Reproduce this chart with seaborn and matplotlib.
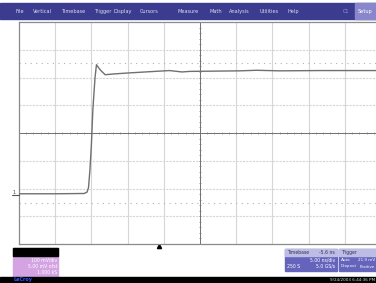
import numpy as np
import matplotlib
matplotlib.use("Agg")
import matplotlib.pyplot as plt
from matplotlib.patches import Rectangle
import seaborn as sns

# ---- data (time in ns, voltage in mV) ----
time_ns = [-25, -20, -16.0, -15.6, -15.4, -15.2, -15.0, -14.8, -14.5, -14.3,
           -13.8, -13.1, -11.8, -10.1, -6.9, -4.2, -2.5, -1.4, 2.2, 5.5,
           7.8, 11.0, 16.5, 25]
volt_mv = [-219, -219, -218, -213, -197, -132, -42, 84, 199, 246,
           228, 210, 213, 216, 221, 225, 220, 222, 223, 224,
           226, 224, 225, 225]
cursor_levels = [252, -251]
trigger_time = -5.6

menu_items = ["File", "Vertical", "Timebase", "Trigger", "Display", "Cursors",
              "Measure", "Math", "Analysis", "Utilities", "Help"]
menu_x = [16, 33, 61, 94, 113, 140, 178, 209, 229, 260, 288]
channel_lines = ["100 mV/div", "5.00 mV ofst", "1.000 kS"]
timebase_lines = ["Timebase", "-5.6 ns", "5.00 ns/div", "250 S", "5.0 GS/s"]
trigger_lines = ["Trigger", "Auto", "21.9 mV", "Dropout", "Positive"]
date_text = "9/24/2003 6:44:36 PM"

W, H = 376, 283
def fx(px): return px / W
def fy(py): return 1 - py / H

sns.set_style("white")
fig = plt.figure(figsize=(W / 100, H / 100), dpi=100)
ax = fig.add_axes([fx(19), fy(244), 362 / W, 222 / H])

xmin, xmax, ymin, ymax = -25, 25, -400, 400
ax.set_xlim(xmin, xmax)
ax.set_ylim(ymin, ymax)

# grid
for gx in np.arange(xmin + 5, xmax, 5):
    if gx != 0:
        ax.axvline(gx, color="#d6d6d6", lw=0.8, zorder=1)
for gy in np.arange(ymin + 100, ymax, 100):
    if gy != 0:
        ax.axhline(gy, color="#d6d6d6", lw=0.8, ls=(0, (2, 1)), zorder=1)
# center axes with tick marks
ax.axvline(0, color="#707070", lw=0.7, zorder=2)
ax.axhline(0, color="#707070", lw=0.7, zorder=2)
tx = np.arange(xmin, xmax + 0.01, 1.0)
ax.plot(tx, np.zeros_like(tx), ls="none", marker="|", ms=2.0, mew=0.5, color="#777777", zorder=2)
ty = np.arange(ymin, ymax + 0.01, 20.0)
ax.plot(np.zeros_like(ty), ty, ls="none", marker="_", ms=2.0, mew=0.5, color="#777777", zorder=2)

# cursors
for c in cursor_levels:
    ax.axhline(c, color="#b0b0b0", lw=0.8, ls=(0, (1, 4)), zorder=1)

# waveform
sns.lineplot(x=time_ns, y=volt_mv, ax=ax, color="#707070", lw=1.0, zorder=3)

ax.set_xticks([]); ax.set_yticks([])
ax.set_xlabel(""); ax.set_ylabel("")
for s in ax.spines.values():
    s.set_color("#8a8a8a"); s.set_linewidth(0.9)

# trigger marker (at trigger time, just below the grid)
trans = matplotlib.transforms.blended_transform_factory(ax.transData, fig.transFigure)
ax.plot([trigger_time], [fy(246)], marker="^", ms=3, color="black",
        transform=trans, clip_on=False)

# channel ground marker
fig.text(fx(14), fy(193), "1", fontsize=3.5, color="#444444", ha="center", va="center")
fig.add_artist(plt.Line2D([fx(12), fx(19)], [fy(194.5), fy(194.5)], color="#555555", lw=0.8))

# menu bar
fig.add_artist(Rectangle((0, fy(19.3)), 1, 16 / H, transform=fig.transFigure,
                         color="#3b3b8f", zorder=0))
fig.add_artist(Rectangle((fx(355), fy(19.3)), 21 / W, 16 / H, transform=fig.transFigure,
                         color="#8a86cc", zorder=1))
for name, x in zip(menu_items, menu_x):
    fig.text(fx(x), fy(11.3), name, fontsize=3.6, color="#dcdcf0", ha="left", va="center")
fig.text(fx(343), fy(11.3), "C1", fontsize=3.6, color="#9a9ad0", ha="left", va="center")
fig.text(fx(358), fy(11.3), "Setup", fontsize=3.6, color="white", ha="left", va="center")

# channel descriptor box
fig.add_artist(Rectangle((fx(13), fy(277)), 45 / W, 29 / H, transform=fig.transFigure,
                         color="#d3a3e2", zorder=1))
fig.add_artist(Rectangle((fx(13), fy(256)), 45 / W, 8 / H, transform=fig.transFigure,
                         color="black", zorder=2))
for i, t in enumerate(channel_lines):
    fig.text(fx(57), fy(260 + 6 * i), t, fontsize=3.3, color="white", ha="right", va="center")

# timebase box
fig.add_artist(Rectangle((fx(285), fy(271)), 52 / W, 22 / H, transform=fig.transFigure,
                         color="#6464bc", zorder=1))
fig.add_artist(Rectangle((fx(285), fy(256)), 52 / W, 7 / H, transform=fig.transFigure,
                         color="#bcbce4", zorder=2))
fig.text(fx(287), fy(252.5), timebase_lines[0], fontsize=3.3, color="#333355", ha="left", va="center")
fig.text(fx(335), fy(252.5), timebase_lines[1], fontsize=3.3, color="#333355", ha="right", va="center")
fig.text(fx(335), fy(260), timebase_lines[2], fontsize=3.3, color="white", ha="right", va="center")
fig.text(fx(287), fy(266.5), timebase_lines[3], fontsize=3.3, color="white", ha="left", va="center")
fig.text(fx(335), fy(266.5), timebase_lines[4], fontsize=3.3, color="white", ha="right", va="center")

# trigger box
fig.add_artist(Rectangle((fx(339), fy(271)), 40 / W, 22 / H, transform=fig.transFigure,
                         color="#6464bc", zorder=1))
fig.add_artist(Rectangle((fx(339), fy(256)), 40 / W, 7 / H, transform=fig.transFigure,
                         color="#bcbce4", zorder=2))
fig.text(fx(341), fy(252.5), trigger_lines[0], fontsize=3.3, color="#333355", ha="left", va="center")
fig.text(fx(341), fy(260), trigger_lines[1], fontsize=3.0, color="white", ha="left", va="center")
fig.text(fx(375), fy(260), trigger_lines[2], fontsize=3.0, color="white", ha="right", va="center")
fig.text(fx(341), fy(266.5), trigger_lines[3], fontsize=2.8, color="white", ha="left", va="center")
fig.text(fx(375), fy(266.5), trigger_lines[4], fontsize=2.8, color="white", ha="right", va="center")

# bottom status bar
fig.add_artist(Rectangle((0, 0), 1, 6.5 / H, transform=fig.transFigure, color="black", zorder=1))
fig.text(fx(13), fy(280), "LeCroy", fontsize=3.5, color="#3355ff", ha="left", va="center",
         fontweight="bold")
fig.text(fx(375), fy(280), date_text, fontsize=3.0, color="#dddddd", ha="right", va="center")

fig.savefig("out.png", dpi=100)
